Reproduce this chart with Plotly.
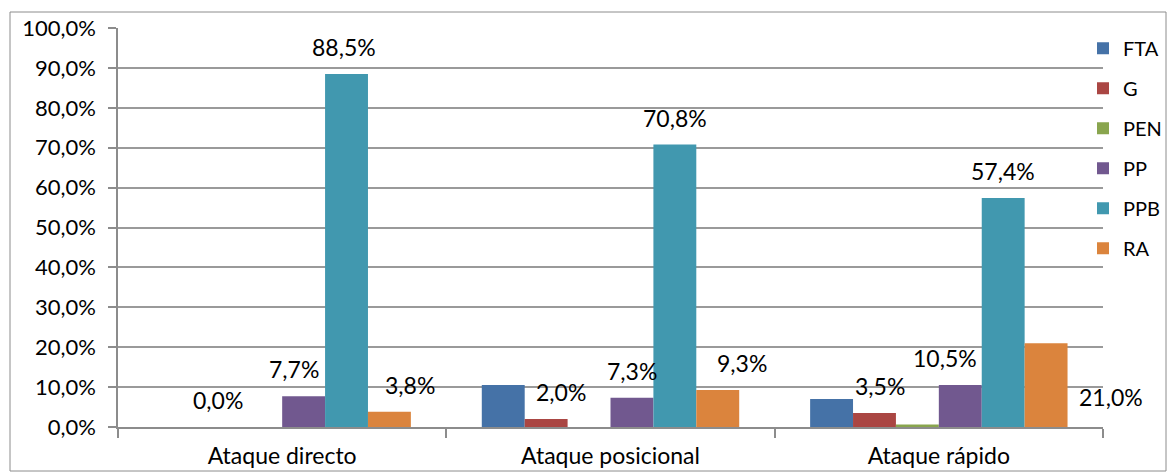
import plotly.graph_objects as go

categories = ["Ataque directo", "Ataque posicional", "Ataque rápido"]
series_names = ["FTA", "G", "PEN", "PP", "PPB", "RA"]
fta = [None, 10.5, 7.0]
g = [0.0, 2.0, 3.5]
pen = [None, None, 0.6]
pp = [7.7, 7.3, 10.5]
ppb = [88.5, 70.8, 57.4]
ra = [3.8, 9.3, 21.0]
labelled_series = ["G", "PP", "PPB", "RA"]
y_ticks = [0, 10, 20, 30, 40, 50, 60, 70, 80, 90, 100]
y_tick_labels = ["0,0%", "10,0%", "20,0%", "30,0%", "40,0%", "50,0%",
                 "60,0%", "70,0%", "80,0%", "90,0%", "100,0%"]

series_values = [fta, g, pen, pp, ppb, ra]
colors = ["#4572A7", "#AA4643", "#89A54E", "#71588F", "#4198AF", "#DB843D"]

# label nudges in pixels (style only): (series, category index) -> (dx, dy)
nudges = {("G", 1): (15, 0), ("RA", 0): (21, 0), ("RA", 1): (24, 0),
          ("PP", 0): (-10, 0), ("PP", 2): (-15, 0), ("G", 2): (6, 0),
          ("PPB", 0): (-3, 0), ("RA", 2): (65, -81)}

W, H = 1167, 472
ML, MR, MT, MB = 118, 64, 28, 45
BARGAP = 0.216
FONT = "Lato"

fig = go.Figure()
for name, vals, col in zip(series_names, series_values, colors):
    fig.add_trace(go.Bar(
        name=name, x=categories, y=vals, marker=dict(color=col, line=dict(width=0)),
        legendgroup=name, hoverinfo="x+y+name"))

plot_w = W - ML - MR
bw = plot_w / len(categories) * (1 - BARGAP) / len(series_names)
annotations = []
for si, (name, vals) in enumerate(zip(series_names, series_values)):
    if name not in labelled_series:
        continue
    for ci, v in enumerate(vals):
        if v is None:
            continue
        dx, dy = nudges.get((name, ci), (0, 0))
        annotations.append(dict(
            x=categories[ci], y=v, xref="x", yref="y",
            text=f"{v:.1f}".replace(".", ",") + "%",
            showarrow=False, xanchor="center", yanchor="middle",
            xshift=(si - (len(series_names) - 1) / 2) * bw + dx,
            yshift=27 + dy,
            font=dict(family=FONT, size=23, color="#000000")))

fig.update_layout(
    width=W, height=H,
    margin=dict(l=ML, r=MR, t=MT, b=MB, autoexpand=False),
    paper_bgcolor="white", plot_bgcolor="white",
    barmode="group", bargap=BARGAP, bargroupgap=0,
    font=dict(family=FONT, size=20, color="#000000"),
    showlegend=True,
    legend=dict(x=0.9797, xanchor="left", y=0.998, yanchor="top",
                bgcolor="rgba(0,0,0,0)", font=dict(family=FONT, size=20),
                tracegroupgap=11, itemclick=False),
    annotations=annotations,
    shapes=[dict(type="rect", xref="paper", yref="paper",
                 x0=(10 - ML) / plot_w, x1=(W - 1 - ML) / plot_w,
                 y0=-(MB - 1) / (H - MT - MB), y1=1 + (MT - 12) / (H - MT - MB),
                 line=dict(color="#8c8c8c", width=1), layer="below")],
)
fig.update_xaxes(
    automargin=False, range=[-0.5, len(categories) - 0.5],
    showline=True, linecolor="#8c8c8c", linewidth=1.5,
    ticks="outside", ticklen=9, tickcolor="#8c8c8c", tickwidth=1.5,
    tickson="boundaries", showgrid=False,
    tickfont=dict(family=FONT, size=23), ticklabelstandoff=8)
fig.update_yaxes(
    automargin=False,
    range=[0, 100], tickvals=y_ticks, ticktext=y_tick_labels,
    showline=True, linecolor="#8c8c8c", linewidth=1.5,
    ticks="outside", ticklen=8, tickcolor="#8c8c8c", tickwidth=1.5,
    showgrid=True, gridcolor="#9a9a9a", gridwidth=1.5, zeroline=False,
    tickfont=dict(family=FONT, size=22), ticklabelstandoff=8)

fig.write_html("out.html", config={"displayModeBar": False},
               post_script="document.body.style.margin='0';document.body.style.padding='0';")
